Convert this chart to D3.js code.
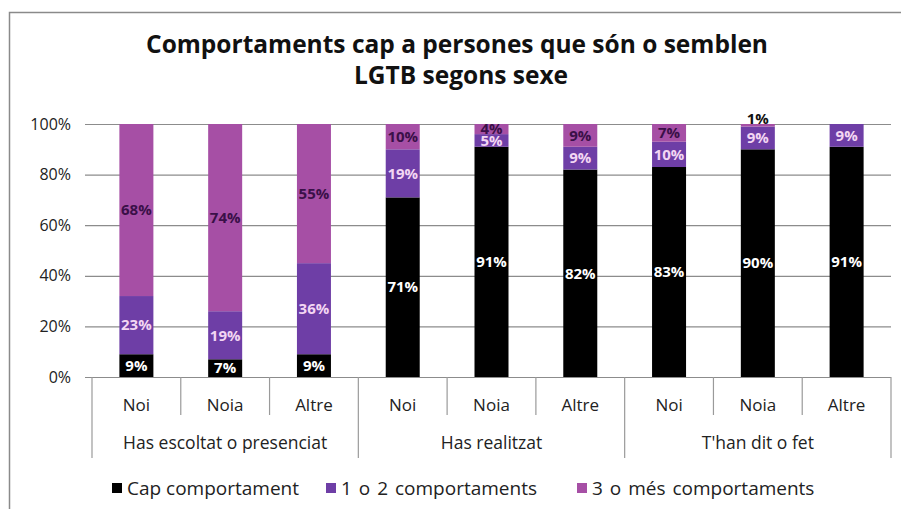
<!DOCTYPE html>
<html>
<head>
<meta charset="utf-8">
<script src="https://cdn.jsdelivr.net/npm/d3@7"></script>
<style>
  body { margin: 0; background: #fff; }
  svg { display: block; font-family: "Open Sans", sans-serif; }
</style>
</head>
<body>
<svg width="901" height="509"></svg>
<script>
// categories
var groups = ["Has escoltat o presenciat", "Has realitzat", "T'han dit o fet"];
var sexes = ["Noi", "Noia", "Altre"];
var seriesNames = ["Cap comportament", "1 o 2 comportaments", "3 o més comportaments"];

// series values (%), in order: group x sex
var capComportament = [9, 7, 9, 71, 91, 82, 83, 90, 91];
var unODosComportaments = [23, 19, 36, 19, 5, 9, 10, 9, 9];
var tresOMesComportaments = [68, 74, 55, 10, 4, 9, 7, 1, 0];

// tick labels
var yTicks = [0, 20, 40, 60, 80, 100];

var colors = ["#000000", "#6e3ea6", "#a64fa5"];
var labelColors = ["#ffffff", "#f3d6f3", "#3a1048"];

// Build rows for the stack
var rows = [];
groups.forEach(function(g, gi){
  sexes.forEach(function(s, si){
    var i = gi * sexes.length + si;
    var row = {group: g, sex: s};
    row[seriesNames[0]] = capComportament[i];
    row[seriesNames[1]] = unODosComportaments[i];
    row[seriesNames[2]] = tresOMesComportaments[i];
    rows.push(row);
  });
});

var svg = d3.select('svg');

// frame of the chart area
svg.append('path')
  .attr('d', 'M9.5,509 L9.5,12.5 L901,12.5')
  .attr('fill', 'none')
  .attr('stroke', '#8a8a8a')
  .attr('stroke-width', 1.5);

// title
svg.append('text')
  .attr('x', 457).attr('y', 53)
  .attr('text-anchor', 'middle')
  .style('font-size', '24.5px').style('font-weight', 'bold').style('fill', '#111')
  .text('Comportaments cap a persones que són o semblen');
svg.append('text')
  .attr('x', 461).attr('y', 84)
  .attr('text-anchor', 'middle')
  .style('font-size', '24.5px').style('font-weight', 'bold').style('fill', '#111')
  .text('LGTB segons sexe');

var plotLeft = 92, plotRight = 891, plotTop = 124, plotBottom = 377;

var x0 = d3.scaleBand().domain(groups).range([plotLeft, plotRight]);
var x1 = d3.scaleBand().domain(sexes).range([0, x0.bandwidth()])
  .paddingInner(0.617).paddingOuter(0.617 / 2);
var y = d3.scaleLinear().domain([0, 100]).range([plotBottom, plotTop]);

// gridlines
var gy = svg.append('g')
  .attr('transform', 'translate(' + plotRight + ',0)')
  .call(d3.axisLeft(y).tickValues(yTicks).tickSize(plotRight - plotLeft + 7).tickFormat(''));
gy.select('.domain').remove();
gy.selectAll('line').attr('stroke', '#8c8c8c').attr('stroke-width', 1.2);

// y tick labels
svg.append('g').selectAll('text')
  .data(yTicks)
  .enter()
  .append('text')
    .attr('x', 71).attr('y', function(t){ return y(t); })
    .attr('dy', '0.35em')
    .attr('text-anchor', 'end')
    .style('font-size', '16px').style('fill', '#222')
    .text(function(t){ return t + '%'; });

// stacked bars
var stack = d3.stack().keys(seriesNames);
var layers = stack(rows);

layers.forEach(function(layer, li){
  svg.append('g').selectAll('rect')
    .data(layer)
    .enter()
    .append('rect')
      .attr('x', function(d){ return x0(d.data.group) + x1(d.data.sex); })
      .attr('width', x1.bandwidth())
      .attr('y', function(d){ return y(d[1]); })
      .attr('height', function(d){ return y(d[0]) - y(d[1]); })
      .style('fill', colors[li]);
});

// data labels
layers.forEach(function(layer, li){
  svg.append('g').selectAll('text')
    .data(layer.filter(function(d){ return d[1] - d[0] > 0; }))
    .enter()
    .append('text')
      .attr('x', function(d){ return x0(d.data.group) + x1(d.data.sex) + x1.bandwidth() / 2; })
      .attr('y', function(d){
        var v = d[1] - d[0];
        if (v < 2) return y(d[1]) - 5;
        return y((d[0] + d[1]) / 2);
      })
      .attr('dy', '0.35em')
      .attr('text-anchor', 'middle')
      .style('font-size', '15px').style('font-weight', 'bold')
      .style('fill', function(d){ return (d[1] - d[0]) < 2 ? '#111' : labelColors[li]; })
      .text(function(d){ return (d[1] - d[0]) + '%'; });
});

// category axis: separators and labels
var sep = svg.append('g').attr('stroke', '#9a9a9a').attr('stroke-width', 1.2);
groups.forEach(function(g, gi){
  sexes.forEach(function(s, si){
    var xs = x0(g) + si * x1.step();
    sep.append('line')
      .attr('x1', xs).attr('x2', xs)
      .attr('y1', plotBottom).attr('y2', si === 0 ? 458 : 415);
    svg.append('text')
      .attr('x', x0(g) + x1(s) + x1.bandwidth() / 2)
      .attr('y', 411)
      .attr('text-anchor', 'middle')
      .style('font-size', '17px').style('fill', '#222')
      .text(s);
  });
  svg.append('text')
    .attr('x', x0(g) + x0.bandwidth() / 2)
    .attr('y', 449)
    .attr('text-anchor', 'middle')
    .style('font-size', '17.5px').style('fill', '#222')
    .text(g);
});
sep.append('line')
  .attr('x1', plotRight).attr('x2', plotRight)
  .attr('y1', plotBottom).attr('y2', 458);

// legend
var legendX = [112, 326, 577];
seriesNames.forEach(function(name, i){
  var lg = svg.append('g').attr('transform', 'translate(' + legendX[i] + ',488)');
  lg.append('rect')
    .attr('x', 0).attr('y', -5).attr('width', 10).attr('height', 10)
    .style('fill', colors[i]);
  lg.append('text')
    .attr('x', 15).attr('y', 0).attr('dy', '0.35em')
    .style('font-size', '19px').style('fill', '#222')
    .style('word-spacing', i === 0 ? '0px' : '2px')
    .text(name);
});
</script>
</body>
</html>
